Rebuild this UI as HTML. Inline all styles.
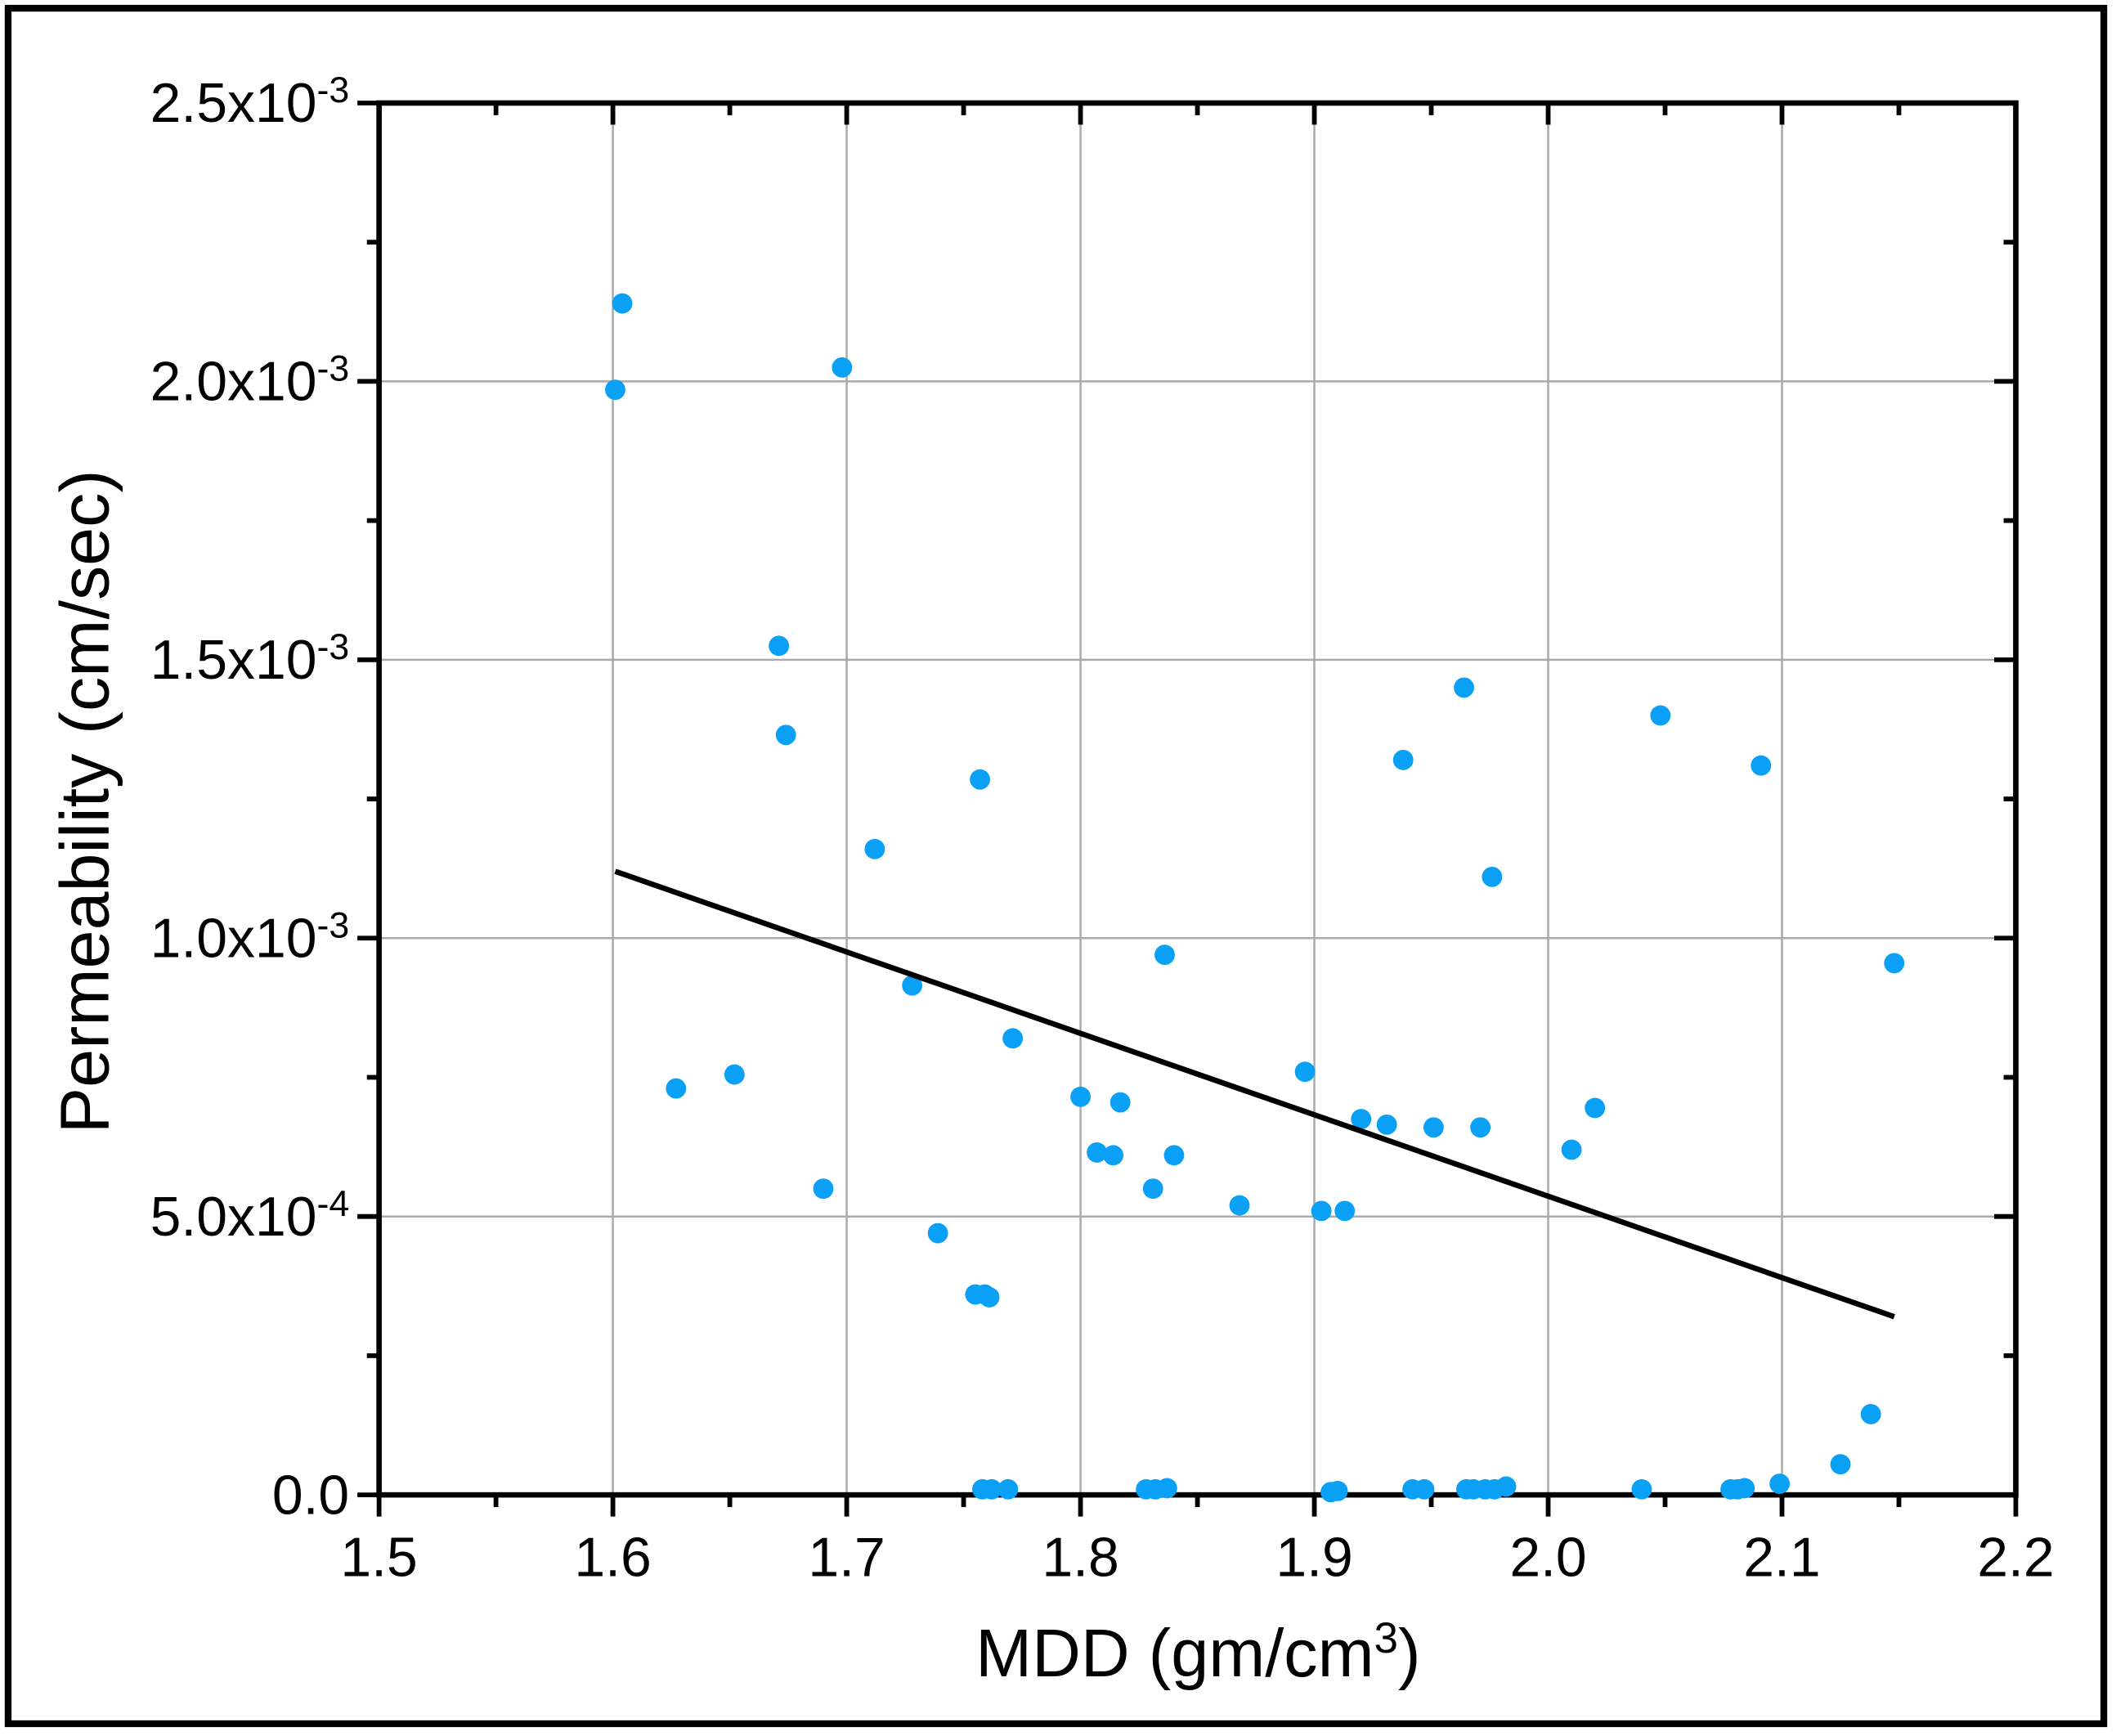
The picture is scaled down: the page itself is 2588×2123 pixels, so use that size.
<!DOCTYPE html>
<html><head><meta charset="utf-8"><style>html,body{margin:0;padding:0;background:#fff}svg{display:block}</style></head>
<body>
<svg id="chart" width="2588" height="2123" viewBox="0 0 1563 1282" xmlns="http://www.w3.org/2000/svg" font-family="Liberation Sans, sans-serif">
<rect x="6" y="6" width="1548" height="1267" fill="#fff" stroke="#000" stroke-width="5"/>
<g id="grid"></g>
<g id="axes"></g>
<g id="marks"></g>
<text x="885" y="1238" font-size="50" text-anchor="middle">MDD (gm/cm<tspan baseline-shift="super" font-size="32">3</tspan>)</text>
<text transform="translate(80,592) rotate(-90)" font-size="51" text-anchor="middle">Permeability (cm/sec)</text>
</svg>
<script>
const xVals=[1.601,1.604,1.627,1.652,1.671,1.674,1.690,1.698,1.712,1.728,1.739,1.755,1.757,1.759,1.761,1.758,1.762,1.769,1.771,1.800,1.807,1.814,1.817,1.828,1.831,1.832,1.836,1.837,1.840,1.868,1.896,1.903,1.907,1.910,1.913,1.920,1.931,1.938,1.942,1.947,1.951,1.964,1.965,1.968,1.971,1.973,1.976,1.977,1.982,2.010,2.020,2.040,2.048,2.078,2.081,2.084,2.091,2.099,2.125,2.138,2.148];
const yVals=[1.985,2.14,0.73,0.755,1.525,1.365,0.55,2.025,1.16,0.915,0.47,0.36,1.285,0.36,0.355,0.01,0.01,0.01,0.82,0.715,0.615,0.61,0.705,0.01,0.55,0.01,0.97,0.012,0.61,0.52,0.76,0.51,0.005,0.007,0.51,0.675,0.665,1.32,0.01,0.01,0.66,1.45,0.01,0.01,0.66,0.01,1.11,0.01,0.015,0.62,0.695,0.01,1.40,0.01,0.01,0.012,1.31,0.02,0.055,0.145,0.955]; // x1e-3
const fitX=[1.601,2.148];
const fitY=[1.12,0.32];
const xTicks=[1.5,1.6,1.7,1.8,1.9,2.0,2.1,2.2];
const xTickLabels=["1.5","1.6","1.7","1.8","1.9","2.0","2.1","2.2"];
const yTicks=[0,0.5,1.0,1.5,2.0,2.5];
const yTickLabels=["0.0","5.0x10","1.0x10","1.5x10","2.0x10","2.5x10"];
const yTickExp=["","-4","-3","-3","-3","-3"];
const L=280,R=1489,T=76,B=1104;
const sx=v=>L+(v-1.5)/0.7*(R-L);
const sy=v=>B-v/2.5*(B-T);
const NS="http://www.w3.org/2000/svg";
function mk(tag,attrs,parent){const e=document.createElementNS(NS,tag);for(const k in attrs)e.setAttribute(k,attrs[k]);parent.appendChild(e);return e;}
const grid=document.getElementById('grid'),axes=document.getElementById('axes'),marks=document.getElementById('marks');
xTicks.forEach((t,i)=>{
 if(i>0&&i<xTicks.length-1){const g=mk('line',{x1:sx(t),x2:sx(t),y1:T,y2:B,stroke:'#aaa','stroke-width':1.5},grid);
 
 }
 const x=sx(t);
 mk('line',{x1:x,x2:x,y1:B,y2:B+16,stroke:'#000','stroke-width':3.5},axes);
 mk('line',{x1:x,x2:x,y1:T,y2:T+16,stroke:'#000','stroke-width':3.5},axes);
 const tx=mk('text',{x:x,y:B+60,'font-size':41,'text-anchor':'middle'},axes);
 tx.textContent=xTickLabels[i];
 
 
 if(i<xTicks.length-1){const m=sx(t+0.05);
  mk('line',{x1:m,x2:m,y1:B,y2:B+9,stroke:'#000','stroke-width':3.5},axes);
  mk('line',{x1:m,x2:m,y1:T,y2:T+9,stroke:'#000','stroke-width':3.5},axes);}
});
yTicks.forEach((t,i)=>{
 const y=sy(t);
 if(i>0&&i<yTicks.length-1){const g=mk('line',{x1:L,x2:R,y1:y,y2:y,stroke:'#aaa','stroke-width':1.5},grid);
 
 }
 mk('line',{x1:L-16,x2:L,y1:y,y2:y,stroke:'#000','stroke-width':3.5},axes);
 mk('line',{x1:R-16,x2:R,y1:y,y2:y,stroke:'#000','stroke-width':3.5},axes);
 const tx=mk('text',{x:L-22,y:y+14,'font-size':41,'text-anchor':'end'},axes);
 
 
 if(yTickExp[i]){tx.textContent=yTickLabels[i];const ts=mk('tspan',{'baseline-shift':'super','font-size':27},tx);ts.textContent=yTickExp[i];}
 else tx.textContent=yTickLabels[i];
 if(i<yTicks.length-1){const m=sy(t+0.25);
  mk('line',{x1:L-9,x2:L,y1:m,y2:m,stroke:'#000','stroke-width':3.5},axes);
  mk('line',{x1:R-9,x2:R,y1:m,y2:m,stroke:'#000','stroke-width':3.5},axes);}
});
const frame=mk('rect',{x:L,y:T,width:R-L,height:B-T,fill:'none',stroke:'#000','stroke-width':4},axes);


xVals.forEach((x,i)=>{
 const c=mk('circle',{cx:sx(x),cy:sy(yVals[i]),r:7.5,fill:'#0aa0f5'},marks);
 
 
});
const fl=mk('line',{x1:sx(fitX[0]),y1:sy(fitY[0]),x2:sx(fitX[1]),y2:sy(fitY[1]),stroke:'#000','stroke-width':4},marks);


</script>
</body></html>
